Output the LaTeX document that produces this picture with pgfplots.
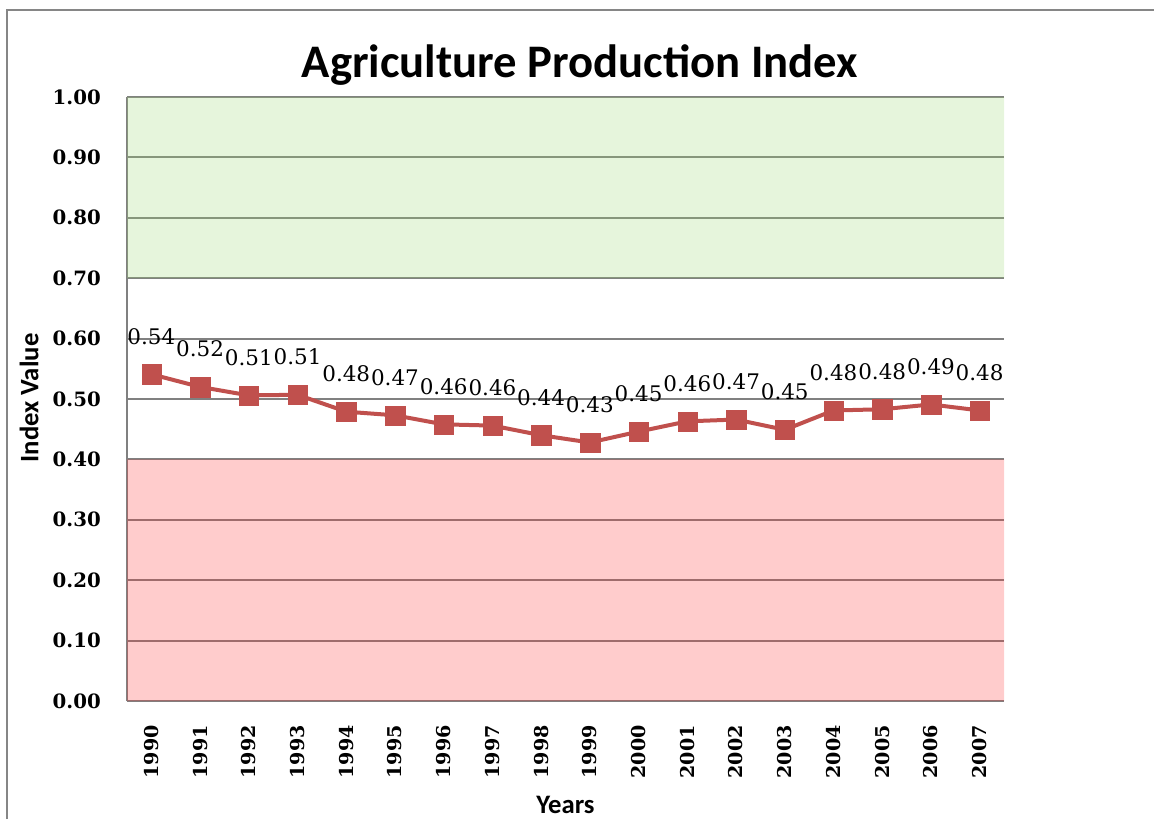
\documentclass[border=0pt]{standalone}
\usepackage{fontspec}
\usepackage{pgfplots}
\pgfplotsset{compat=1.18}
\setmainfont{DejaVu Serif}
\newfontfamily\carlito{Carlito}
\newfontfamily\dvs{DejaVu Serif}
\definecolor{linered}{RGB}{192,80,77}
\definecolor{gridgray}{RGB}{128,128,128}
\definecolor{bandred}{RGB}{255,51,51}
\definecolor{bandgreen}{RGB}{156,216,116}
\begin{document}
\begin{tikzpicture}
\useasboundingbox (0,0) rectangle (865.5pt,614.25pt);
\begin{axis}[
  at={(95.25pt,88.5pt)}, anchor=south west,
  scale only axis, width=657.75pt, height=453pt,
  xmin=-0.5, xmax=17.5, ymin=0, ymax=1,
  clip=false,
  /pgf/number format/assume math mode=true,
  axis x line=bottom, axis y line=left,
  axis line style={-, draw=gridgray, line width=1.5pt},
  major tick length=0pt,
  xtick={0,1,2,3,4,5,6,7,8,9,10,11,12,13,14,15,16,17},
  xticklabels={1990,1991,1992,1993,1994,1995,1996,1997,1998,1999,2000,2001,2002,2003,2004,2005,2006,2007},
  ytick={0,0.1,0.2,0.3,0.4,0.5,0.6,0.7,0.8,0.9,1},
  yticklabel style={/pgf/number format/.cd, fixed, fixed zerofill, precision=2, /tikz/.cd,
    inner sep=0pt, font=\dvs\bfseries\fontsize{14.8}{16}\selectfont},
  xticklabel style={rotate=90, anchor=east, inner sep=0pt, font=\dvs\bfseries\fontsize{14.3}{16}\selectfont},
  xticklabel shift=18pt, yticklabel shift=19.5pt,
  ymajorgrids, major grid style={draw=gridgray, line width=1.5pt},
  title={Agriculture Production Index},
  title style={at={(axis description cs:0.5165,1.0183)}, anchor=base, inner sep=0pt,
    font=\carlito\bfseries\fontsize{35}{42}\selectfont},
  ylabel={Index Value},
  ylabel style={at={(axis description cs:-0.1117,0.5017)}, anchor=center, inner sep=0pt,
    font=\carlito\bfseries\fontsize{20}{24}\selectfont},
  xlabel={Years},
  xlabel style={at={(axis description cs:0.5,-0.172)}, anchor=center, inner sep=0pt,
    font=\carlito\bfseries\fontsize{20}{24}\selectfont},
]
\addplot[draw=none, fill=bandred, fill opacity=0.25] coordinates {(-0.5,0) (17.5,0) (17.5,0.4) (-0.5,0.4) (-0.5,0)};
\addplot[draw=none, fill=bandgreen, fill opacity=0.25] coordinates {(-0.5,0.7) (17.5,0.7) (17.5,1) (-0.5,1) (-0.5,0.7)};
\addplot[color=linered, line width=3pt, mark=square*,
  mark size=7.3pt, mark options={solid, fill=linered, draw=linered, line width=0.1pt},
  point meta=y, nodes near coords={\pgfmathprintnumber[fixed,fixed zerofill,precision=2]{\pgfplotspointmeta}},
  every node near coord/.append style={anchor=base, yshift=22.5pt, inner sep=0pt, text=black,
    font=\dvs\fontsize{16.1}{18}\selectfont}]
coordinates {
(0,0.541) (1,0.520) (2,0.506) (3,0.507) (4,0.479) (5,0.473) (6,0.458) (7,0.456) (8,0.440)
(9,0.428) (10,0.446) (11,0.463) (12,0.466) (13,0.449) (14,0.481) (15,0.483) (16,0.491) (17,0.481)
};
\end{axis}
\draw[draw={rgb,255:red,134;green,134;blue,134}, line width=1.5pt] (5.25pt,0) -- (5.25pt,606.75pt) -- (866pt,606.75pt);
\end{tikzpicture}
\end{document}
